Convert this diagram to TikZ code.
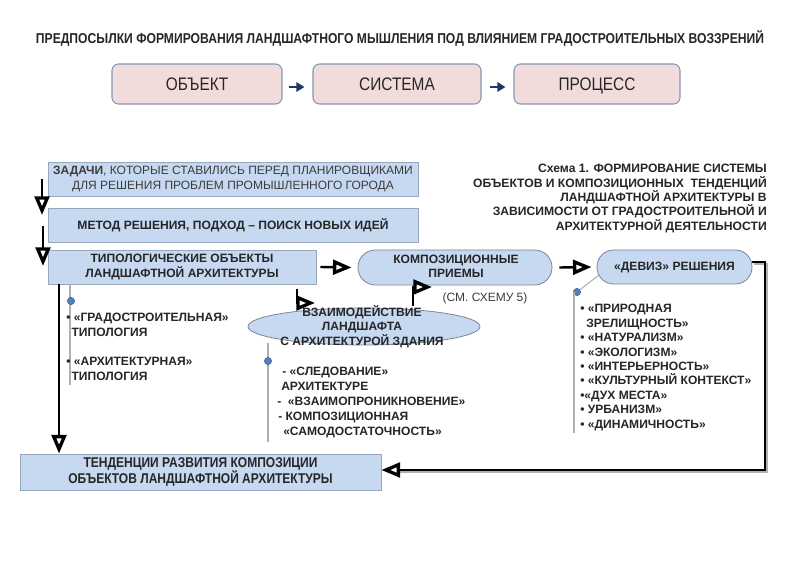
\documentclass[tikz,border=0pt]{standalone}
\usepackage{fontspec}
\setmainfont{Liberation Sans}
\newfontfamily\narrowf[FakeStretch=0.85]{Liberation Sans}
\usetikzlibrary{arrows.meta,shapes.geometric,fit,calc}
\definecolor{txtc}{HTML}{262626}
\definecolor{pinkf}{HTML}{F2DCDB}
\definecolor{pinkb}{HTML}{8497B0}
\definecolor{bluef}{HTML}{C6D9F1}
\definecolor{blueb}{HTML}{98A8BC}
\definecolor{dotc}{HTML}{4F81BD}
\definecolor{linec}{HTML}{B0B0B0}
\definecolor{navy}{HTML}{1F3864}
\begin{document}
\begin{tikzpicture}[x=0.75pt,y=-0.75pt,
  bt/.style={font=\bfseries\fontsize{9.05}{10.8}\selectfont, text=txtc, inner sep=0pt, align=center},
  nt/.style={font=\fontsize{9.0}{11.2}\selectfont, text=txtc!90!white, inner sep=0pt, align=center},
  bbox/.style={draw=blueb, fill=bluef, line width=0.6pt, inner sep=0pt},
  ebox/.style={draw=blueb!80!black, fill=bluef, line width=0.6pt, inner sep=0pt},
  pbox/.style={draw=pinkb, fill=pinkf, line width=0.8pt, rounded corners=5pt, inner sep=0pt},
  ptxt/.style={font=\narrowf\fontsize{13.6}{15}\selectfont, text=txtc, inner sep=0pt, anchor=base},
  blk/.style={line width=1.8pt, -{Triangle[open,length=14pt,width=11pt,line width=2.5pt]}},
  navarr/.style={draw=navy, line width=1.3pt, -{Triangle[length=6pt,width=7pt]}},
  gline/.style={draw=linec, line width=0.8pt},
  bdot/.style={circle, fill=dotc, draw=dotc!70!black, line width=0.3pt, inner sep=0pt, minimum size=5.5pt}
]
\useasboundingbox (0,0) rectangle (800,566);
\fill[white] (0,0) rectangle (800,566);

% title
\node[font=\narrowf\bfseries\fontsize{10.7}{12}\selectfont, text=txtc] (title) at (400,38)
  {ПРЕДПОСЫЛКИ ФОРМИРОВАНИЯ ЛАНДШАФТНОГО МЫШЛЕНИЯ ПОД ВЛИЯНИЕМ ГРАДОСТРОИТЕЛЬНЫХ ВОЗЗРЕНИЙ};

% top row
\node[pbox, fit={(112,64) (282,104)}] (obj) {};
\node[pbox, fit={(313,64) (481,104)}] (sys) {};
\node[pbox, fit={(514,64) (680,104)}] (proc) {};
\node[ptxt] (objt) at ($(obj.center)+(0,6.5)$) {ОБЪЕКТ};
\node[ptxt] (syst) at ($(sys.center)+(0,6.5)$) {СИСТЕМА};
\node[ptxt] (proct) at ($(proc.center)+(0,6.5)$) {ПРОЦЕСС};
\draw[navarr] ($(obj.east)+(6,3)$) -- ($(sys.west)+(-8,3)$);
\draw[navarr] ($(sys.east)+(8,3)$) -- ($(proc.west)+(-8,3)$);

% left column boxes
\node[bbox, fit={(48,162) (418,196)}] (zad) {};
\node[nt] (zadt) at (zad.center)
  {{\bfseries ЗАДАЧИ}, КОТОРЫЕ СТАВИЛИСЬ ПЕРЕД ПЛАНИРОВЩИКАМИ\\ДЛЯ РЕШЕНИЯ ПРОБЛЕМ ПРОМЫШЛЕННОГО ГОРОДА};
\node[bbox, fit={(48,208) (418,242)}] (met) {};
\node[bt] (mett) at (met.center) {МЕТОД РЕШЕНИЯ, ПОДХОД – ПОИСК НОВЫХ ИДЕЙ};
\node[bbox, fit={(48,250) (316,284)}] (typ) {};
\node[bt] (typt) at (typ.center) {ТИПОЛОГИЧЕСКИЕ ОБЪЕКТЫ\\ЛАНДШАФТНОЙ АРХИТЕКТУРЫ};

% rounded shapes
\node[ebox, rounded corners=13pt, fit={(358,250) (552,285)}] (komp) {};
\node[bt] (kompt) at (456,266.5) {КОМПОЗИЦИОННЫЕ\\ПРИЕМЫ};
\node[ebox, rounded corners=12.5pt, fit={(597,250) (752,284)}] (dev) {};
\node[bt] (devt) at (dev.center) {«ДЕВИЗ» РЕШЕНИЯ};
\node[ebox, ellipse, minimum width=174pt, minimum height=27.75pt] (vz) at (364,326.5) {};
\node[bt] (vzt) at (362,326.5) {ВЗАИМОДЕЙСТВИЕ\\ЛАНДШАФТА\\С АРХИТЕКТУРОЙ ЗДАНИЯ};
\node[nt] (see) at (485,298) {(СМ. СХЕМУ 5)};

% caption
\node[bt, align=right, anchor=east, font=\bfseries\fontsize{9.1}{10.7}\selectfont] (cap) at (767,198.5)
  {Схема 1. ФОРМИРОВАНИЕ СИСТЕМЫ\\ОБЪЕКТОВ И КОМПОЗИЦИОННЫХ\ \ ТЕНДЕНЦИЙ\\ЛАНДШАФТНОЙ АРХИТЕКТУРЫ В\\ЗАВИСИМОСТИ ОТ ГРАДОСТРОИТЕЛЬНОЙ И\\АРХИТЕКТУРНОЙ ДЕЯТЕЛЬНОСТИ};

% bottom box
\node[bbox, fit={(20,454) (381,490)}] (tend) {};
\node[font=\narrowf\bfseries\fontsize{10.6}{10.8}\selectfont, text=txtc, align=center, inner sep=0pt] (tendt) at (tend.center)
  {ТЕНДЕНЦИИ РАЗВИТИЯ КОМПОЗИЦИИ\\ОБЪЕКТОВ ЛАНДШАФТНОЙ АРХИТЕКТУРЫ};

% bullet lists
\coordinate (g1a) at (70,284);
\coordinate (g1b) at (70,385);
\draw[gline] (g1a) -- (g1b);
\node[bdot] (d1) at (71,301) {};
\node[bt, align=left, anchor=west] (l1a) at (66,325) {• «ГРАДОСТРОИТЕЛЬНАЯ»\\\hspace*{4pt}ТИПОЛОГИЯ};
\node[bt, align=left, anchor=west] (l1b) at (66,369) {• «АРХИТЕКТУРНАЯ»\\\hspace*{4pt}ТИПОЛОГИЯ};

\coordinate (g2a) at (268,343);
\coordinate (g2b) at (268,442);
\draw[gline] (g2a) -- (g2b);
\node[bdot] (d2) at (268,361) {};
\node[bt, align=left, anchor=west, font=\bfseries\fontsize{9.05}{11.25}\selectfont] (l2) at (277,402)
  {\hspace*{3.75pt}- «СЛЕДОВАНИЕ»\\\hspace*{3pt}АРХИТЕКТУРЕ\\-\ \ «ВЗАИМОПРОНИКНОВЕНИЕ»\\\hspace*{0.75pt}- КОМПОЗИЦИОННАЯ\\\hspace*{4.5pt}«САМОДОСТАТОЧНОСТЬ»};

\coordinate (g3a) at (599,275);
\node[bdot] (d3) at (577,292) {};
\coordinate (g3b) at (574,433);
\draw[gline] (g3a) -- (d3);
\draw[gline] (574,292) -- (g3b);
\node[bt, align=left, anchor=west] (l3) at (580,367.5)
  {• «ПРИРОДНАЯ\\\hspace*{4.5pt}ЗРЕЛИЩНОСТЬ»\\• «НАТУРАЛИЗМ»\\• «ЭКОЛОГИЗМ»\\• «ИНТЕРЬЕРНОСТЬ»\\• «КУЛЬТУРНЫЙ КОНТЕКСТ»\\•«ДУХ МЕСТА»\\• УРБАНИЗМ»\\• «ДИНАМИЧНОСТЬ»};

% black arrows
\coordinate (a1s) at (42,179);
\coordinate (a1e) at (42,215);
\draw[blk] (a1s) -- (a1e);
\coordinate (a2s) at (43,226);
\coordinate (a2e) at (43,266);
\draw[blk] (a2s) -- (a2e);
\coordinate (a3s) at (59,284);
\draw[blk] (a3s) -- (a3s |- tend.north);
\draw[blk] ($(typ.east)+(4,0)$) -- ($(komp.west)+(-6,0)$);
\draw[blk] ($(komp.east)+(7,0)$) -- ($(dev.west)+(-5,0)$);
\coordinate (a6s) at (297,289);
\coordinate (a6e) at (315,303);
\draw[blk] (a6s) |- (a6e);
\coordinate (a7s) at (413,306);
\coordinate (a7e) at (432,287);
\draw[blk] (a7s) |- (a7e);
% long return arrow with shadow
\coordinate (r1) at (752,262);
\coordinate (r2) at (765,470);
\draw[line width=1.8pt, draw=gray!60] ($(r1)+(2,2)$) -| ($(r2)+(2,2)$) -- ($(tend.east |- r2)+(18,2)$);
\draw[blk] (r1) -| (r2) -- (tend.east |- r2);
\end{tikzpicture}
\end{document}
